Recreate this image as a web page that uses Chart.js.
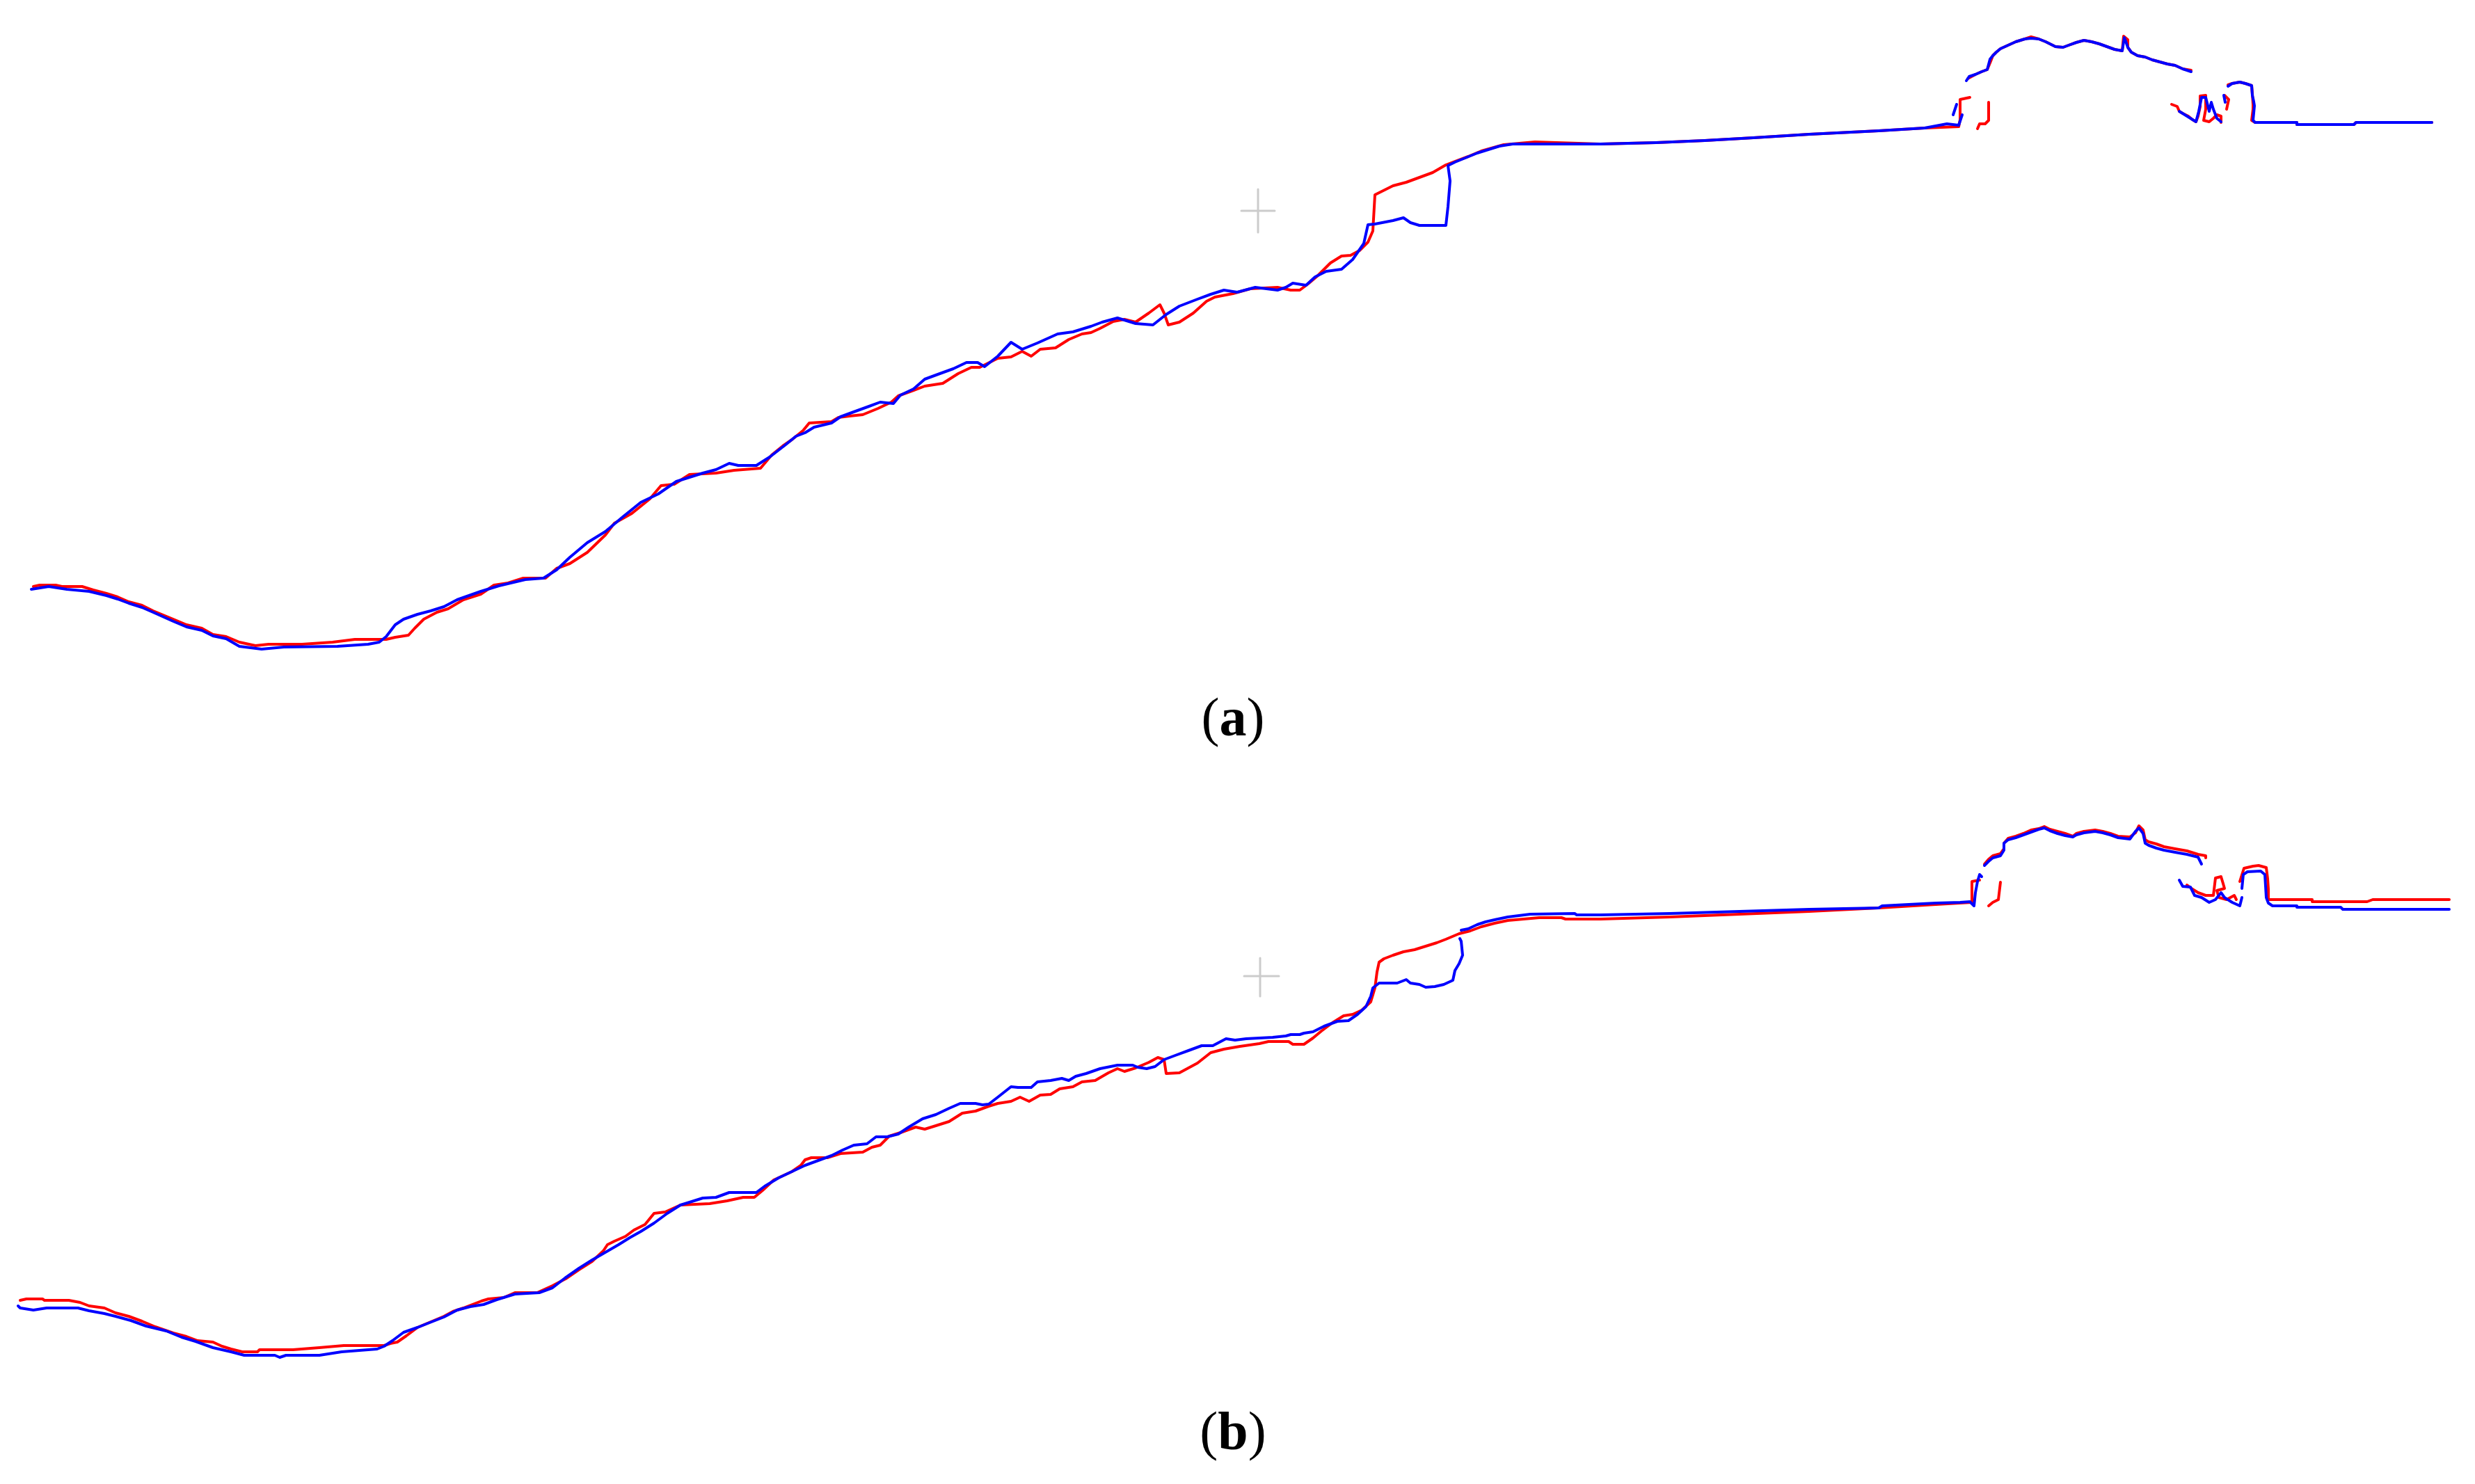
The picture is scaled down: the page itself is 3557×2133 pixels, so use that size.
<!DOCTYPE html>
<html>
<head>
<meta charset="utf-8">
<script src="https://cdn.jsdelivr.net/npm/chart.js@4/dist/chart.umd.min.js"></script>
<style>
  body { margin: 0; background: #fff; width: 3557px; height: 2133px; position: relative; overflow: hidden; }
  canvas { position: absolute; left: 0; }
  #panelA { top: 0; }
  #panelB { top: 1100px; }
  .caption { position: absolute; left: 0; width: 3544px; text-align: center; font-family: "Liberation Serif", "Times New Roman", serif; font-size: 78px; line-height: 78px; color: #000; }
  .caption b { font-weight: bold; }
</style>
</head>
<body>
<canvas id="panelA" width="3557" height="1000" style="width:3557px;height:1000px"></canvas>
<canvas id="panelB" width="3557" height="1000" style="width:3557px;height:1000px"></canvas>
<div class="caption" style="top:992px">(<b>a</b>)</div>
<div class="caption" style="top:2018px">(<b>b</b>)</div>
<script>
// trajectory points [x, y] in panel units, null = break in the track
const aRed = [
  [48,843],[57,841],[80,841],[89,843],[118,843],[134,848],[153,853],[169,858],[185,865],[204,870],[220,878],[249,890],[268,898],[290,903],[306,912],[325,915],[344,923],[367,928],[386,926],[434,926],[478,923],[510,919],[555,919],[568,916],[587,913],[596,903],[609,890],[628,880],[644,875],[666,862],[691,854],[710,841],[730,838],[752,831],[784,831],[800,817],[819,810],[844,794],[870,769],[883,752],[908,738],[934,717],[950,698],[969,696],[991,682],[1029,680],[1055,676],[1093,673],[1109,654],[1125,641],[1138,632],[1154,619],[1163,608],[1195,606],[1205,600],[1221,598],[1240,596],[1262,587],[1281,578],[1291,569],[1313,561],[1329,555],[1355,551],[1377,537],[1396,528],[1408,528],[1428,518],[1434,515],[1453,513],[1469,505],[1482,512],[1495,502],[1517,500],[1536,488],[1555,480],[1568,478],[1581,472],[1600,462],[1616,459],[1632,463],[1651,450],[1667,438],[1673,450],[1679,467],[1695,463],[1715,450],[1734,433],[1746,427],[1772,422],[1797,415],[1836,413],[1855,417],[1868,417],[1880,408],[1893,397],[1912,378],[1928,368],[1941,367],[1954,360],[1966,348],[1973,332],[1976,280],[1986,275],[2002,267],[2021,262],[2040,255],[2059,248],[2078,237],[2091,232],[2110,225],[2129,217],[2161,208],[2206,204],[2237,205],[2300,207],[2380,205],[2450,202],[2520,198],[2600,193],[2700,188],[2766,184],[2815,182],[2817,172],[2817,150],[2817,143],[2831,140],null,
  [2842,185],[2845,178],[2853,178],[2858,173],[2858,147],null,
  [2828,113],[2839,107],[2848,103],[2856,100],[2861,88],[2864,80],[2869,75],[2875,70],[2886,65],[2897,60],[2910,56],[2919,53],[2930,56],[2940,60],[2954,67],[2965,68],[2973,65],[2984,61],[2995,58],[3006,60],[3017,63],[3028,67],[3039,71],[3050,73],[3052,52],[3058,57],[3058,68],[3063,75],[3072,80],[3083,82],[3093,86],[3104,89],[3115,92],[3126,94],[3137,99],[3149,101],null,
  [3121,150],[3129,153],[3132,160],[3137,163],[3145,167],[3151,172],[3156,175],[3159,167],[3162,153],[3162,138],[3170,137],[3170,157],[3167,173],[3175,175],[3181,170],[3186,165],[3192,167],[3192,176],null,
  [3200,157],[3203,143],[3197,137],null,
  [3202,122],[3208,120],[3219,118],[3227,120],[3233,122],[3236,123],[3237,135],[3238,150],[3238,157],[3236,173],[3241,176],[3301,176],[3301,179],[3383,179],[3386,176],[3495,176]
];

const aBlue = [
  [45,847],[70,843],[96,847],[128,850],[153,856],[169,861],[185,867],[204,873],[220,880],[249,893],[268,901],[290,906],[306,914],[325,918],[344,929],[376,933],[408,930],[485,929],[529,926],[545,923],[555,915],[568,898],[580,890],[600,883],[619,878],[638,872],[657,862],[691,850],[717,842],[755,833],[781,831],[800,819],[819,801],[844,780],[870,764],[895,743],[921,722],[946,710],[972,692],[1010,680],[1029,675],[1048,666],[1061,669],[1087,669],[1106,657],[1128,640],[1144,627],[1157,622],[1170,614],[1195,608],[1208,599],[1227,592],[1249,584],[1265,578],[1284,580],[1294,568],[1313,559],[1329,545],[1348,538],[1370,530],[1389,521],[1405,521],[1415,527],[1434,512],[1453,492],[1469,502],[1491,493],[1520,480],[1542,477],[1568,469],[1584,463],[1606,457],[1632,465],[1657,467],[1676,452],[1695,440],[1721,430],[1740,423],[1759,417],[1778,420],[1804,413],[1836,417],[1848,413],[1858,407],[1877,410],[1890,398],[1906,390],[1928,387],[1944,373],[1960,350],[1966,323],[1976,322],[2002,317],[2017,313],[2027,320],[2040,324],[2078,324],[2081,297],[2084,260],[2081,238],[2091,233],[2123,220],[2155,210],[2174,207],[2300,207],[2380,205],[2450,202],[2520,198],[2600,193],[2700,188],[2766,184],[2798,178],[2815,180],[2820,165],null,
  [2807,165],[2812,150],null,
  [2826,116],[2830,110],[2839,107],[2848,103],[2856,100],[2860,85],[2864,80],[2869,75],[2875,70],[2886,65],[2897,60],[2910,56],[2919,55],[2930,56],[2940,60],[2954,67],[2965,68],[2973,65],[2984,61],[2995,58],[3006,60],[3017,63],[3028,67],[3039,71],[3050,73],[3053,54],[3056,62],[3058,68],[3063,75],[3072,80],[3083,82],[3093,86],[3104,89],[3115,92],[3126,94],[3137,99],[3149,103],null,
  [3132,160],[3140,165],[3148,170],[3156,175],[3160,160],[3164,140],[3170,140],[3175,160],[3178,147],[3181,157],[3186,170],[3192,175],null,
  [3196,137],[3198,147],null,
  [3202,124],[3208,120],[3219,118],[3227,120],[3233,122],[3236,123],[3237,137],[3239,146],[3240,152],[3238,173],[3241,176],[3301,176],[3301,179],[3383,179],[3386,176],[3495,176]
];

const aCross = [[1784,303],[1832,303],null,[1808,272],[1808,334]];

const bRed = [
  [29,769],[38,767],[61,767],[64,769],[99,769],[115,772],[128,777],[150,780],[166,787],[185,792],[204,799],[223,807],[249,816],[268,821],[284,827],[306,829],[319,835],[332,839],[348,843],[370,843],[373,840],[421,840],[459,837],[494,834],[552,834],[561,831],[571,829],[584,820],[600,808],[619,800],[638,792],[651,785],[666,780],[692,770],[702,767],[724,765],[740,758],[772,758],[794,748],[813,738],[832,725],[851,713],[867,698],[873,689],[883,684],[899,677],[911,668],[927,660],[940,644],[956,642],[978,632],[1020,630],[1045,626],[1068,621],[1084,621],[1096,611],[1112,596],[1138,584],[1151,575],[1157,567],[1166,564],[1189,564],[1208,558],[1240,556],[1253,549],[1265,546],[1278,533],[1294,528],[1316,520],[1329,523],[1345,518],[1364,512],[1383,500],[1402,497],[1421,490],[1434,486],[1453,483],[1466,477],[1479,483],[1495,474],[1510,473],[1523,465],[1542,462],[1555,455],[1574,453],[1593,442],[1606,436],[1616,440],[1632,435],[1651,427],[1664,420],[1673,423],[1676,443],[1695,442],[1721,428],[1740,413],[1759,408],[1782,404],[1810,400],[1823,397],[1852,397],[1858,401],[1874,401],[1887,392],[1899,382],[1915,370],[1931,360],[1944,358],[1957,352],[1970,340],[1976,320],[1979,297],[1982,283],[1989,278],[2002,273],[2017,268],[2033,265],[2049,260],[2065,255],[2078,250],[2097,242],[2113,238],[2129,232],[2148,227],[2167,223],[2212,219],[2244,219],[2250,221],[2300,221],[2400,218],[2500,214],[2600,210],[2700,205],[2733,203],[2782,200],[2834,197],[2834,167],[2845,165],null,
  [2858,202],[2864,197],[2872,193],[2875,168],null,
  [2852,142],[2858,135],[2864,130],[2875,127],[2880,120],[2880,112],[2886,105],[2897,102],[2908,98],[2919,93],[2930,91],[2938,88],[2946,92],[2957,95],[2968,98],[2979,102],[2984,98],[2995,95],[3011,93],[3022,95],[3033,98],[3044,102],[3061,103],[3069,97],[3074,87],[3080,93],[3083,107],[3088,110],[3099,113],[3110,117],[3126,120],[3143,123],[3159,128],[3170,130],[3170,133],null,
  [3143,172],[3151,178],[3159,183],[3170,187],[3181,187],[3184,162],[3192,160],[3195,170],[3197,177],[3186,180],[3189,190],[3200,193],[3211,187],[3214,193],null,
  [3219,167],[3225,148],[3238,145],[3246,144],[3257,147],[3259,163],[3260,178],[3260,193],[3323,193],[3323,196],[3402,196],[3410,193],[3520,193]
];

const bBlue = [
  [26,777],[29,780],[48,783],[67,780],[112,780],[128,784],[150,788],[166,792],[188,798],[210,806],[239,813],[261,822],[281,828],[306,837],[332,843],[351,848],[395,848],[402,851],[411,848],[459,848],[491,843],[542,839],[552,835],[564,827],[580,815],[600,808],[615,802],[638,793],[657,783],[676,778],[695,775],[714,768],[740,760],[775,758],[794,751],[812,737],[832,723],[851,711],[870,700],[889,689],[905,679],[921,670],[940,658],[959,644],[978,632],[991,628],[1010,622],[1029,621],[1048,614],[1087,614],[1099,605],[1119,593],[1138,584],[1157,575],[1176,568],[1195,561],[1211,553],[1227,546],[1246,544],[1259,534],[1275,534],[1291,530],[1306,520],[1326,508],[1345,502],[1364,493],[1380,486],[1402,486],[1412,488],[1421,487],[1434,477],[1453,462],[1463,463],[1482,463],[1491,455],[1510,453],[1526,450],[1536,453],[1546,447],[1561,443],[1581,436],[1606,431],[1628,431],[1635,434],[1648,436],[1660,433],[1673,423],[1689,417],[1708,410],[1727,403],[1743,403],[1762,393],[1775,395],[1791,393],[1829,391],[1848,389],[1855,387],[1868,387],[1874,385],[1887,383],[1903,375],[1922,368],[1938,367],[1951,358],[1963,347],[1970,332],[1973,320],[1982,313],[2008,313],[2021,308],[2027,313],[2040,315],[2049,319],[2062,318],[2075,315],[2088,309],[2091,295],[2097,285],[2102,273],[2100,253],[2098,249],null,
  [2100,237],[2110,235],[2123,229],[2135,225],[2148,222],[2167,218],[2199,214],[2263,213],[2266,215],[2300,215],[2400,213],[2500,210],[2600,207],[2700,205],[2705,202],[2782,198],[2817,197],[2831,196],[2837,202],[2839,183],[2842,167],[2845,157],[2848,160],null,
  [2852,144],[2858,138],[2864,133],[2875,130],[2880,122],[2880,112],[2886,107],[2897,104],[2908,100],[2919,96],[2930,92],[2938,90],[2946,94],[2957,98],[2968,101],[2979,103],[2984,100],[2995,97],[3011,95],[3022,97],[3033,100],[3044,104],[3061,106],[3069,95],[3074,90],[3080,98],[3083,112],[3088,115],[3099,119],[3110,122],[3126,125],[3143,128],[3159,132],[3164,142],null,
  [3132,165],[3137,174],[3148,175],[3154,187],[3164,190],[3175,197],[3184,193],[3192,183],[3197,190],[3208,197],[3219,202],[3222,190],null,
  [3222,177],[3224,157],[3230,153],[3249,152],[3255,157],[3257,190],[3260,198],[3266,202],[3301,202],[3301,204],[3364,204],[3367,207],[3520,207]
];

const bCross = [[1788,303],[1838,303],null,[1811,277],[1811,332]];

function toPoints(arr) {
  return arr.map(p => p ? { x: p[0], y: p[1] } : { x: null, y: null });
}

function track(points, color, width) {
  return {
    data: toPoints(points),
    showLine: true,
    borderColor: color,
    borderWidth: width,
    pointRadius: 0,
    tension: 0,
    spanGaps: false,
    borderJoinStyle: "round",
    borderCapStyle: "round"
  };
}

function drawPanel(id, red, blue, cross) {
  const ctx = document.getElementById(id).getContext("2d");
  new Chart(ctx, {
    type: "scatter",
    data: {
      datasets: [
        track(blue, "#0000ff", 4),
        track(red, "#ff0000", 4),
        track(cross, "#cccccc", 3)
      ]
    },
    options: {
      responsive: false,
      animation: false,
      events: [],
      layout: { padding: 0 },
      plugins: { legend: { display: false }, tooltip: { enabled: false } },
      scales: {
        x: { type: "linear", min: 0, max: 3557, display: false },
        y: { type: "linear", min: 0, max: 1000, reverse: true, display: false }
      }
    }
  });
}

drawPanel("panelA", aRed, aBlue, aCross);
drawPanel("panelB", bRed, bBlue, bCross);
</script>
</body>
</html>
